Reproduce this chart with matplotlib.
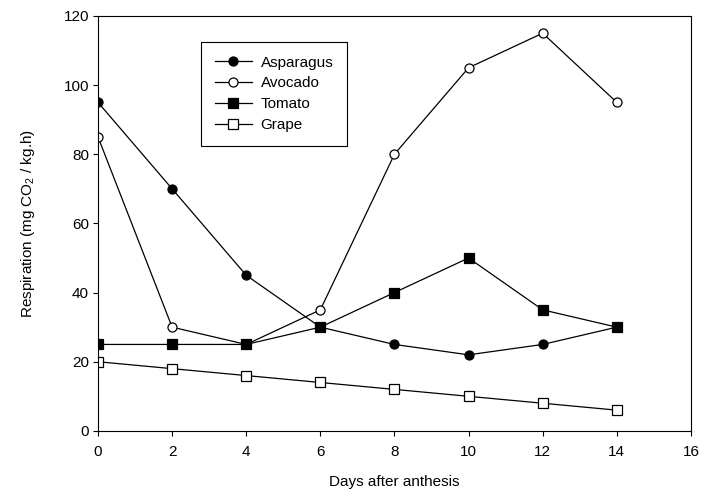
import matplotlib
matplotlib.use('Agg')
import matplotlib.pyplot as plt

plt.rcParams['font.family'] = ['Liberation Sans', 'DejaVu Sans']
plt.rcParams['mathtext.fontset'] = 'custom'
plt.rcParams['mathtext.rm'] = 'Liberation Sans'
plt.rcParams['mathtext.it'] = 'Liberation Sans:italic'

# data
days = [0, 2, 4, 6, 8, 10, 12, 14]
asparagus = [95, 70, 45, 30, 25, 22, 25, 30]
avocado = [85, 30, 25, 35, 80, 105, 115, 95]
tomato = [25, 25, 25, 30, 40, 50, 35, 30]
grape = [20, 18, 16, 14, 12, 10, 8, 6]

fig = plt.figure(figsize=(7.05, 4.97), dpi=100)
ax = fig.add_axes([0.139, 0.133, 0.841, 0.835])

style = dict(color='black', linewidth=0.9, markersize=6.5, markeredgewidth=0.9,
             markeredgecolor='black')
ax.plot(days, asparagus, marker='o', markerfacecolor='black', label='Asparagus', **style)
ax.plot(days, avocado, marker='o', markerfacecolor='white', label='Avocado', **style)
ax.plot(days, tomato, marker='s', markerfacecolor='black', label='Tomato', **style)
ax.plot(days, grape, marker='s', markerfacecolor='white', label='Grape', **style)

ax.set_xlim(0, 16)
ax.set_ylim(0, 120)
ax.set_xticks(range(0, 17, 2))
ax.set_yticks(range(0, 121, 20))
ax.tick_params(direction='out', length=3.5, width=0.8, labelsize=11)
ax.tick_params(axis='x', pad=7)
ax.tick_params(axis='y', pad=3)

for s in ax.spines.values():
    s.set_linewidth(0.8)

ax.set_xlabel('Days after anthesis', fontsize=11, labelpad=11)
ax.set_ylabel('Respiration (mg CO$_2$ / kg.h)', fontsize=11, labelpad=19)

leg = ax.legend(loc='upper left', bbox_to_anchor=(0.174, 0.9375), fontsize=11,
                frameon=True, fancybox=False, edgecolor='black', framealpha=1,
                handlelength=2.4, borderpad=0.9, labelspacing=0.45,
                borderaxespad=0, handletextpad=0.6)
leg.get_frame().set_linewidth(0.8)

fig.savefig('out.png', dpi=100)
